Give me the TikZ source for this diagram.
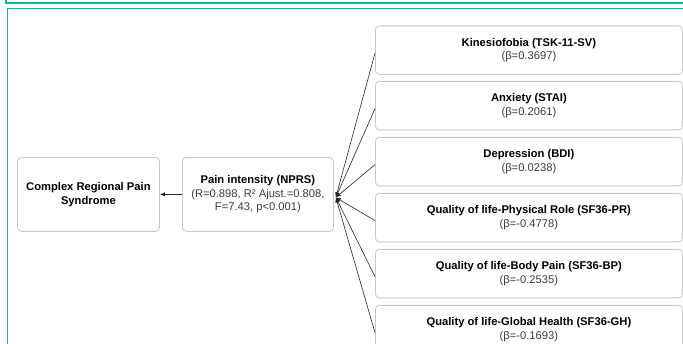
\documentclass[tikz,border=0pt]{standalone}
\usepackage{fontspec}
\setmainfont{Liberation Sans}
\usetikzlibrary{arrows.meta}
\definecolor{frameteal}{RGB}{30,178,150}
\definecolor{boxline}{RGB}{200,200,200}
\definecolor{subtext}{RGB}{60,60,60}
\begin{document}
\begin{tikzpicture}[x=1pt,y=-1pt,
  box/.style={draw=boxline, line width=0.8pt, rounded corners=4pt, fill=white,
    align=center, inner sep=0pt, anchor=north west,
    font=\fontsize{11.2}{13.5}\selectfont},
  rbox/.style={box, minimum width=307pt, minimum height=48.5pt},
  link/.style={draw=black!85, line width=0.6pt, -{Latex[length=5pt,width=4pt]}},
  frameline/.style={draw=frameteal, line width=1.4pt}]
\useasboundingbox (0,0) rectangle (683,344);
\clip (0,0) rectangle (683,344);
\draw[frameline] (6,-10) rectangle (700,3);
\draw[frameline] (7.5,8.5) rectangle (700,400);

\node[box, minimum width=142pt, minimum height=74pt] (crps) at (17,157)
  {\textbf{Complex Regional Pain}\\\textbf{Syndrome}};
\node[box, minimum width=151pt, minimum height=74pt] (pain) at (182,157)
  {\textbf{Pain intensity (NPRS)}\\{\color{subtext}(R=0.898, R² Ajust.=0.808,}\\{\color{subtext}F=7.43, p<0.001)}};

\node[rbox] (k) at (375,25.5) {\textbf{Kinesiofobia (TSK-11-SV)}\\{\color{subtext}(β=0.3697)}};
\node[rbox] (a) at (375,81) {\textbf{Anxiety (STAI)}\\{\color{subtext}(β=0.2061)}};
\node[rbox] (d) at (375,137) {\textbf{Depression (BDI)}\\{\color{subtext}(β=0.0238)}};
\node[rbox] (pr) at (375,193) {\textbf{Quality of life-Physical Role (SF36-PR)}\\{\color{subtext}(β=-0.4778)}};
\node[rbox] (bp) at (375,249) {\textbf{Quality of life-Body Pain (SF36-BP)}\\{\color{subtext}(β=-0.2535)}};
\node[rbox] (gh) at (375,305) {\textbf{Quality of life-Global Health (SF36-GH)}\\{\color{subtext}(β=-0.1693)}};

\coordinate (hub) at ([xshift=2pt,yshift=-3pt]pain.east);
\draw[link] (pain.west) -- (crps.east);
\foreach \n in {k,a,d,pr,bp,gh}{
  \draw[link] ([yshift=-3pt]\n.west) -- (hub);
}
\end{tikzpicture}
\end{document}
